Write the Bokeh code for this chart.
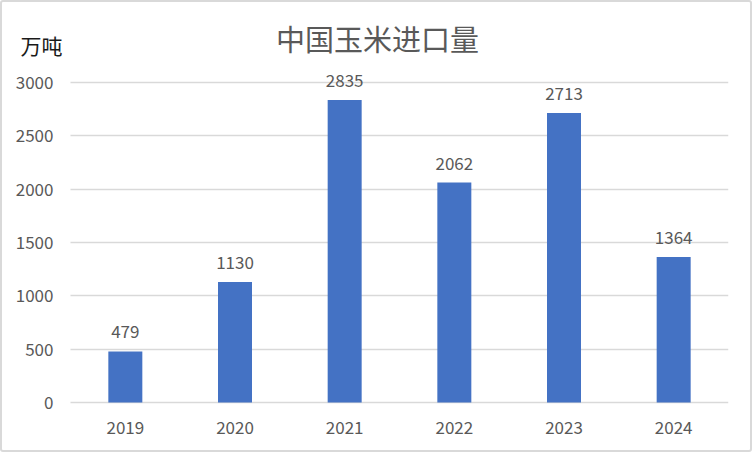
from bokeh.plotting import figure
from bokeh.models import ColumnDataSource, Range1d, FixedTicker, Label, LabelSet, Grid
from bokeh.core.properties import value
from bokeh.embed import file_html
from bokeh.resources import INLINE

years = ["2019", "2020", "2021", "2022", "2023", "2024"]
imports = [479, 1130, 2835, 2062, 2713, 1364]
y_ticks = [0, 500, 1000, 1500, 2000, 2500, 3000]
title_text = "中国玉米进口量"
unit_text = "万吨"

FONT = "Noto Sans CJK SC"
GRAY = "#595959"

idx = list(range(len(years)))
src = ColumnDataSource(dict(idx=idx, imports=imports, labels=[str(v) for v in imports]))

p = figure(x_range=Range1d(-1.1383, 5.5), y_range=Range1d(-93.75, 3768.75), width=752, height=452,
           output_backend="svg", toolbar_location=None,
           min_border_left=0, min_border_right=24, min_border_top=0, min_border_bottom=40)

p.vbar(x="idx", top="imports", width=0.31, source=src, color="#4472C4", line_color=None)

p.add_layout(LabelSet(x="idx", y="imports", text="labels", source=src,
                      text_align="center", text_baseline="alphabetic", y_offset=13,
                      text_font=value(FONT), text_font_size=value("17px"), text_color=GRAY))

p.add_layout(Label(x=2.5, y=y_ticks[-1], x_offset=-22, y_offset=45, text=title_text,
                   text_align="center", text_baseline="middle", text_font=FONT,
                   text_font_size="29px", text_color=GRAY))
p.add_layout(Label(x=-0.5, y=y_ticks[-1], x_offset=-50, y_offset=38, text=unit_text,
                   text_align="left", text_baseline="middle", text_font=FONT,
                   text_font_size="21px", text_color="#1a1a1a"))

p.outline_line_color = None
p.background_fill_color = None
p.border_fill_color = None
p.xgrid.grid_line_color = None
p.ygrid.grid_line_color = "#d9d9d9"
p.ygrid.grid_line_width = 1.5
p.yaxis.ticker = FixedTicker(ticks=y_ticks)
p.ygrid.ticker = FixedTicker(ticks=y_ticks)
if "cross_bounds" in Grid.properties():
    p.ygrid.cross_bounds = (-0.5, 5.5)
p.yaxis.fixed_location = -0.5

p.xaxis.ticker = FixedTicker(ticks=idx)
p.xaxis.major_label_overrides = {i: y for i, y in zip(idx, years)}

for ax in (p.xaxis[0], p.yaxis[0]):
    ax.axis_line_color = None
    ax.major_tick_line_color = None
    ax.minor_tick_line_color = None
    ax.major_tick_out = 0
    ax.major_tick_in = 0
    ax.major_label_text_font = FONT
    ax.major_label_text_font_size = "17px"
    ax.major_label_text_color = GRAY
p.xaxis.major_label_standoff = 8
p.yaxis.major_label_standoff = 17

p.styles = {"background-color": "white", "box-shadow": "inset 0 0 0 2px #d9d9d9",
            "border-radius": "3px"}

open("out.html", "w").write(file_html(p, INLINE))
